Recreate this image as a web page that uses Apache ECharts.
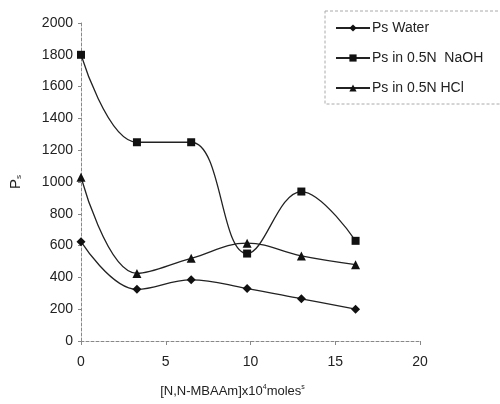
<!DOCTYPE html>
<html>
<head>
<meta charset="utf-8">
<script src="https://cdn.jsdelivr.net/npm/echarts@6/dist/echarts.min.js"></script>
<style>
  html, body { margin: 0; padding: 0; background: #fff; }
  #chart { width: 500px; height: 404px; }
</style>
</head>
<body>
<div id="chart"></div>
<script>
// concentration of cross-linker, x10^4 moles
var conc = [0, 3.3, 6.5, 9.8, 13.0, 16.2]
var psWater = [625, 325, 385, 330, 265, 200]
var psNaOH = [1800, 1250, 1250, 550, 940, 630]
var psHCl = [1030, 425, 520, 615, 535, 480]
var seriesNames = ['Ps Water', 'Ps in 0.5N  NaOH', 'Ps in 0.5N HCl']

function pairs(ys) {
  return conc.map(function (x, i) { return [x, ys[i]] })
}

var font = 'Liberation Sans, Arial, sans-serif'
var axisLine = { show: true, lineStyle: { color: '#888', width: 1, type: [3, 2] } }

var chart = echarts.init(document.getElementById('chart'))
var option = {
  backgroundColor: '#fff',
  animation: false,
  textStyle: { fontFamily: font, color: '#222' },
  grid: { left: 80, right: 80, top: 23, bottom: 63 },
  legend: {
    orient: 'vertical',
    left: 325,
    top: 11,
    padding: [10, 20, 9, 10],
    itemGap: 16,
    itemWidth: 34,
    itemHeight: 9,
    borderColor: '#aaa',
    borderWidth: 1,
    borderType: [3, 2],
    textStyle: { fontSize: 14, color: '#222', fontFamily: font, padding: [0, 0, 0, -3] },
    data: seriesNames
  },
  xAxis: {
    type: 'value',
    min: 0,
    max: 20,
    interval: 5,
    name: '[N,N-MBAAm]x10{sup|4}moles{sup|s}',
    nameLocation: 'middle',
    nameGap: 43,
    nameTextStyle: {
      fontSize: 13, color: '#222', padding: [0, 36, 0, 0],
      rich: { sup: { fontSize: 7, verticalAlign: 'top', padding: [0, 0, 7, 0] } }
    },
    axisLine: axisLine,
    axisTick: { show: true, length: 4, inside: false, lineStyle: { color: '#888' } },
    axisLabel: { fontSize: 14, color: '#222', margin: 14 },
    splitLine: { show: false }
  },
  yAxis: {
    type: 'value',
    min: 0,
    max: 2000,
    interval: 200,
    name: 'P{sub|s}',
    nameLocation: 'middle',
    nameRotate: 90,
    nameGap: 58,
    nameTextStyle: {
      fontSize: 15, color: '#222',
      rich: { sub: { fontSize: 8, verticalAlign: 'bottom', padding: [7, 0, 0, 0] } }
    },
    axisLine: axisLine,
    axisTick: { show: true, length: 3, lineStyle: { color: '#888' } },
    axisLabel: { fontSize: 14, color: '#222', margin: 8, formatter: function (v) { return String(v) } },
    splitLine: { show: false }
  },
  series: [
    {
      name: seriesNames[0],
      type: 'line',
      smooth: 0.4,
      data: pairs(psWater),
      symbol: 'diamond',
      symbolSize: 9,
      lineStyle: { color: '#222', width: 1.3 },
      itemStyle: { color: '#111' }
    },
    {
      name: seriesNames[1],
      type: 'line',
      smooth: 0.4,
      data: pairs(psNaOH),
      symbol: 'rect',
      symbolSize: 8,
      lineStyle: { color: '#222', width: 1.3 },
      itemStyle: { color: '#111' }
    },
    {
      name: seriesNames[2],
      type: 'line',
      smooth: 0.4,
      data: pairs(psHCl),
      symbol: 'triangle',
      symbolSize: 9,
      lineStyle: { color: '#222', width: 1.3 },
      itemStyle: { color: '#111' }
    }
  ]
}
chart.setOption(option)
</script>
</body>
</html>
